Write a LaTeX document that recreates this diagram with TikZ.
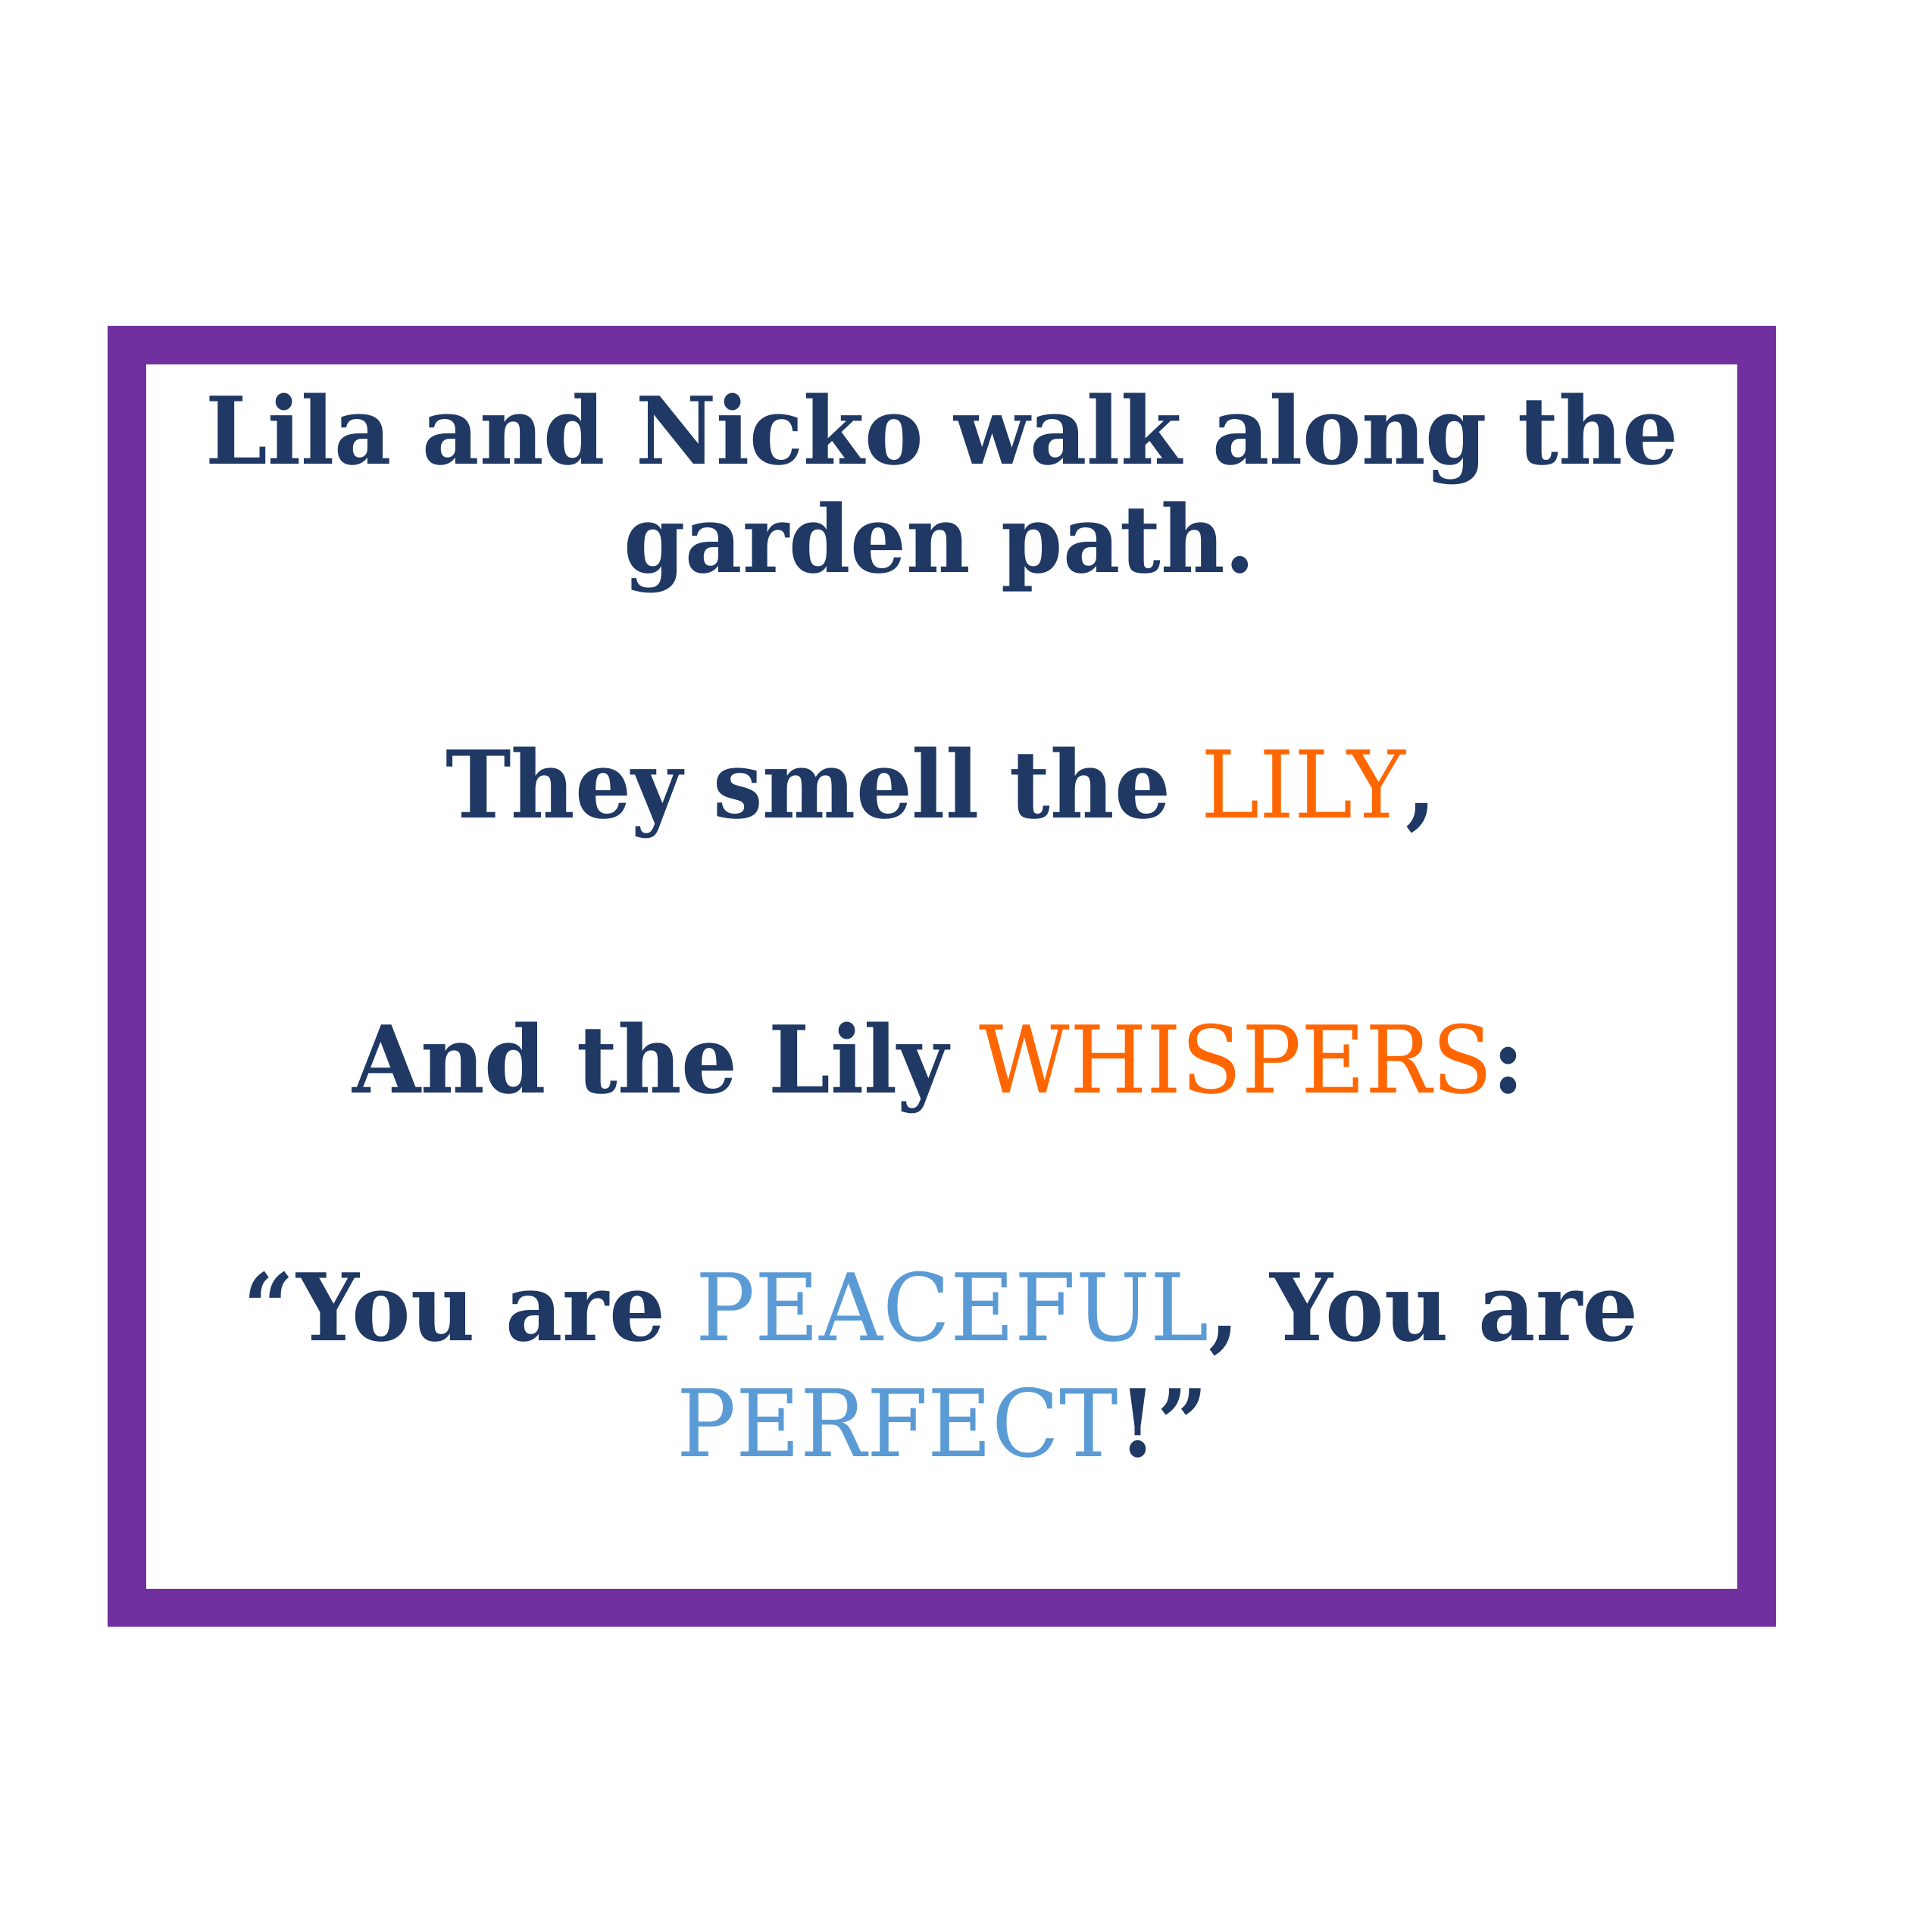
\documentclass[tikz,border=0pt]{standalone}
\usepackage{fontspec}
\setmainfont[FakeStretch=0.945]{DejaVu Serif}
\definecolor{navy}{HTML}{1F3864}
\definecolor{orng}{HTML}{FF6600}
\definecolor{lblue}{HTML}{5B9BD5}
\definecolor{purp}{HTML}{7030A0}
\tikzset{
  line/.style={anchor=base, inner sep=0pt, font=\fontsize{21.3}{25}\selectfont\bfseries, text=navy},
}
\newcommand{\hlo}[1]{{\mdseries\color{orng}#1}}
\newcommand{\hlb}[1]{{\mdseries\color{lblue}#1}}
\begin{document}
\begin{tikzpicture}[x=0.01cm,y=-0.01cm]
\useasboundingbox (0,0) rectangle (1552,1552);
\draw[purp, line width=31*0.01cm] (102,277.5) rectangle (1411,1291.5);
\node[line] (l1) at (757,373) {Lila and Nicko walk along the};
\node[line] (l2) at (755,460) {garden path.};
\node[line] (l3) at (756,657) {They smell the \hlo{LILY},};
\node[line] (l4) at (754,878) {And the Lily \hlo{WHISPERS}:};
\node[line] (l5) at (756,1077) {“You are \hlb{PEACEFUL}, You are};
\node[line] (l6) at (757,1170) {\hlb{PERFECT}!”};
\end{tikzpicture}
\end{document}
